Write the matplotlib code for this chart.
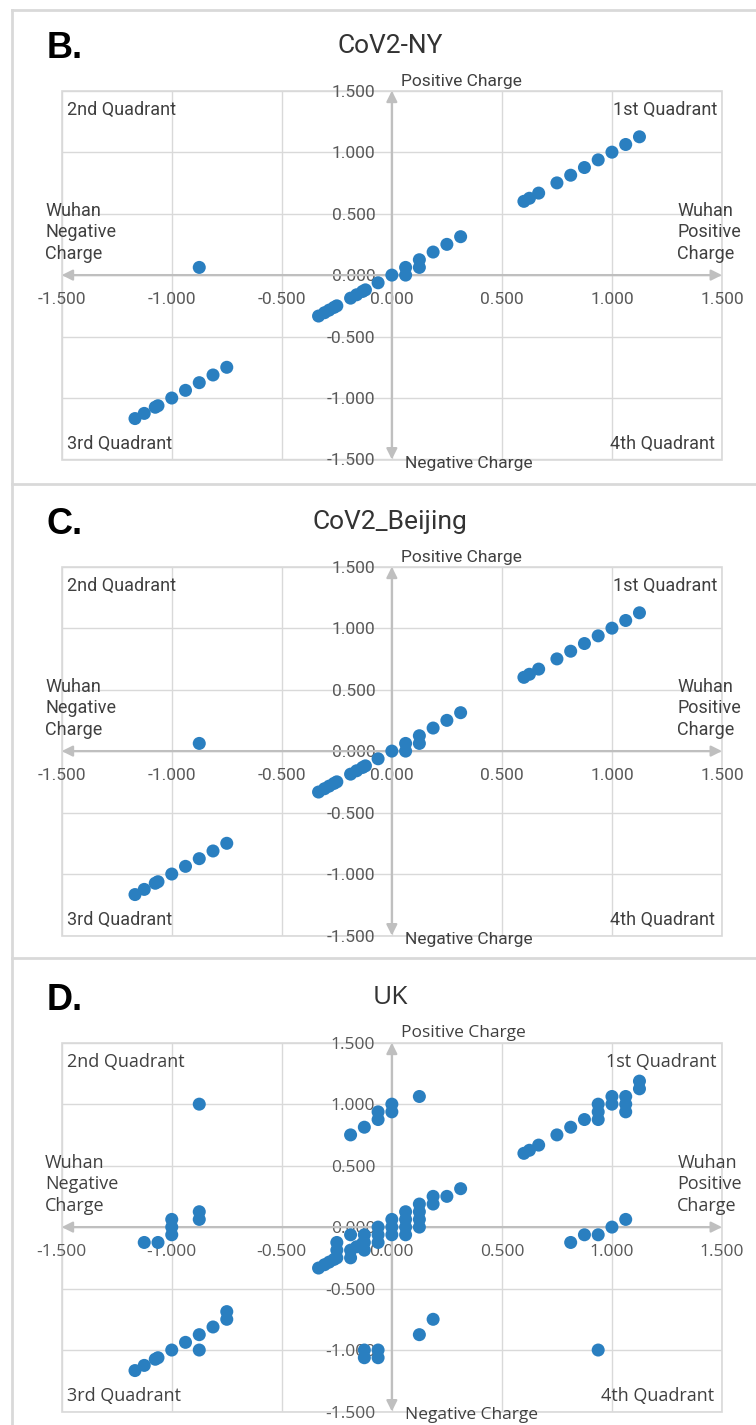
import matplotlib
matplotlib.use('Agg')
import matplotlib.pyplot as plt
from matplotlib import font_manager
from matplotlib.patches import Rectangle
from matplotlib.lines import Line2D
from matplotlib.ticker import FormatStrFormatter

# data
titles = ['CoV2-NY', 'CoV2_Beijing', 'UK']
letters = ['B.', 'C.', 'D.']
ticks = [-1.5, -1.0, -0.5, 0.0, 0.5, 1.0, 1.5]

ny_x = [-0.875,
        -1.167, -1.125, -1.075, -1.0625, -1.0, -0.9375, -0.875, -0.8125, -0.75,
        -0.333, -0.306, -0.285, -0.263, -0.25, -0.1875, -0.16, -0.133, -0.12, -0.0625,
        0.0, 0.0625, 0.0625, 0.125, 0.125, 0.1875, 0.25, 0.3125,
        0.6, 0.625, 0.667, 0.75, 0.8125, 0.875, 0.9375, 1.0, 1.0625, 1.125]
ny_y = [0.0625,
        -1.167, -1.125, -1.075, -1.0625, -1.0, -0.9375, -0.875, -0.8125, -0.75,
        -0.333, -0.306, -0.285, -0.263, -0.25, -0.1875, -0.16, -0.133, -0.12, -0.0625,
        0.0, 0.0, 0.0625, 0.0625, 0.125, 0.1875, 0.25, 0.3125,
        0.6, 0.625, 0.667, 0.75, 0.8125, 0.875, 0.9375, 1.0, 1.0625, 1.125]

bj_x = list(ny_x)
bj_y = list(ny_y)

uk_x = [-0.875, -0.875, -0.875, -1.0, -1.0, -1.0, -1.125, -1.0625,
        -1.167, -1.125, -1.075, -1.0625, -1.0, -0.9375, -0.875, -0.875, -0.8125, -0.75, -0.75,
        -0.1875, -0.125, -0.0625, -0.0625, 0.0, 0.0, 0.125,
        -0.333, -0.306, -0.285, -0.263, -0.25, -0.25, -0.25,
        -0.1875, -0.1875, -0.1875, -0.16, -0.133,
        -0.125, -0.125, -0.125, -0.0625, -0.0625, -0.0625,
        0.0, 0.0, 0.0, 0.0625, 0.0625, 0.0625, 0.0625,
        0.125, 0.125, 0.125, 0.125, 0.1875, 0.1875, 0.25, 0.3125,
        -0.125, -0.125, -0.0625, -0.0625, 0.125, 0.1875,
        0.6, 0.625, 0.667, 0.75, 0.8125, 0.875, 0.9375, 0.9375, 0.9375,
        1.0, 1.0, 1.0625, 1.0625, 1.0625, 1.125, 1.125,
        0.8125, 0.875, 0.9375, 1.0, 1.0625, 0.9375]
uk_y = [1.0, 0.125, 0.0625, 0.0625, 0.0, -0.0625, -0.125, -0.125,
        -1.167, -1.125, -1.075, -1.0625, -1.0, -0.9375, -0.875, -1.0, -0.8125, -0.75, -0.6875,
        0.75, 0.8125, 0.875, 0.9375, 0.9375, 1.0, 1.0625,
        -0.333, -0.306, -0.285, -0.263, -0.25, -0.1875, -0.125,
        -0.25, -0.1875, -0.0625, -0.16, -0.133,
        -0.0625, -0.125, -0.1875, 0.0, -0.0625, -0.125,
        0.0625, 0.0, -0.0625, 0.125, 0.0625, 0.0, -0.0625,
        0.1875, 0.125, 0.0625, 0.0, 0.25, 0.1875, 0.25, 0.3125,
        -1.0, -1.0625, -1.0, -1.0625, -0.875, -0.75,
        0.6, 0.625, 0.667, 0.75, 0.8125, 0.875, 0.875, 0.9375, 1.0,
        1.0, 1.0625, 1.0625, 1.0, 0.9375, 1.1875, 1.125,
        -0.125, -0.0625, -0.0625, 0.0, 0.0625, -1.0]

xs = [ny_x, bj_x, uk_x]
ys = [ny_y, bj_y, uk_y]


def pick_font(names):
    have = set(f.name for f in font_manager.fontManager.ttflist)
    for n in names:
        if n in have:
            return n
    return 'DejaVu Sans'


narrow = pick_font(['Liberation Sans Narrow', 'Roboto', 'DejaVu Sans'])
round_font = pick_font(['Open Sans', 'Lato', 'DejaVu Sans'])
bold_font = pick_font(['Liberation Sans', 'DejaVu Sans'])

W, H = 756, 1425
fig = plt.figure(figsize=(W / 100, H / 100), dpi=100)

grid_c = '#d9d9d9'
axis_c = '#bfbfbf'
dot_c = '#2a7fc0'
txt_c = '#404040'
lab_c = '#595959'

# panel frames
fig.add_artist(Line2D([12 / W, 12 / W], [0, 1 - 10 / H], color=grid_c, lw=2))
for yy in [10, 484, 958]:
    fig.add_artist(Line2D([12 / W, 1], [1 - yy / H, 1 - yy / H], color=grid_c, lw=2))

for i in range(3):
    off = 476 * i
    fam = round_font if i == 2 else narrow
    top = 90.7 + off
    bot = 459.5 + off
    ax = fig.add_axes([61.7 / W, 1 - bot / H, (722 - 61.7) / W, (bot - top) / H])
    ax.set_xlim(-1.5, 1.5)
    ax.set_ylim(-1.5, 1.5)
    ax.set_xticks(ticks)
    ax.set_yticks(ticks)
    ax.xaxis.set_major_formatter(FormatStrFormatter('%.3f'))
    ax.yaxis.set_major_formatter(FormatStrFormatter('%.3f'))
    ax.spines['bottom'].set_position('zero')
    ax.spines['left'].set_position('zero')
    for s in ax.spines.values():
        s.set_visible(False)
    ax.tick_params(axis='x', length=0, pad=12, labelsize=12.5, labelcolor=lab_c)
    ax.tick_params(axis='y', length=0, pad=12, labelsize=12.5, labelcolor=lab_c)
    for t in ax.get_xticklabels() + ax.get_yticklabels():
        t.set_family(fam)
    ax.grid(True, color=grid_c, lw=1)
    ax.set_axisbelow(True)
    ax.add_patch(Rectangle((0, 0), 1, 1, transform=ax.transAxes, fill=False,
                           ec=grid_c, lw=1.2, clip_on=False, zorder=0))

    # axes with arrow heads
    ax.annotate('', xy=(1.5, 0), xytext=(-1.5, 0),
                arrowprops=dict(arrowstyle='<|-|>', color=axis_c, lw=1.6,
                                mutation_scale=16, shrinkA=0, shrinkB=0), zorder=1)
    ax.annotate('', xy=(0, 1.5), xytext=(0, -1.5),
                arrowprops=dict(arrowstyle='<|-|>', color=axis_c, lw=1.6,
                                mutation_scale=16, shrinkA=0, shrinkB=0), zorder=1)

    ax.scatter(xs[i], ys[i], s=88, color=dot_c, edgecolors='none', zorder=3, clip_on=False)

    kw = dict(color=txt_c, fontsize=13, family=fam)
    ax.text(-1.475, 1.345, '2nd Quadrant', ha='left', va='center', **kw)
    ax.text(1.477, 1.345, '1st Quadrant', ha='right', va='center', **kw)
    ax.text(-1.475, -1.37, '3rd Quadrant', ha='left', va='center', **kw)
    ax.text(1.466, -1.37, '4th Quadrant', ha='right', va='center', **kw)
    ax.text(-1.575, 0.35, 'Wuhan\nNegative\nCharge', ha='left', va='center',
            linespacing=1.25, clip_on=False, **kw)
    ax.text(1.297, 0.35, 'Wuhan\nPositive\nCharge', ha='left', va='center',
            linespacing=1.25, clip_on=False, **kw)
    ax.text(0.04, 1.51, 'Positive Charge', ha='left', va='bottom', clip_on=False,
            color=txt_c, fontsize=12.5, family=fam)
    ax.text(0.06, -1.53, 'Negative Charge', ha='left', va='center', clip_on=False,
            color=txt_c, fontsize=12.5, family=fam)

    fig.text(390 / W, 1 - (46 + off) / H, titles[i], ha='center', va='center',
             fontsize=19, color='#333333', family=fam)
    fig.text(47 / W, 1 - (48 + off) / H, letters[i], ha='left', va='center',
             fontsize=26, fontweight='bold', color='black', family=bold_font)

fig.savefig('out.png', dpi=100, facecolor='white')
